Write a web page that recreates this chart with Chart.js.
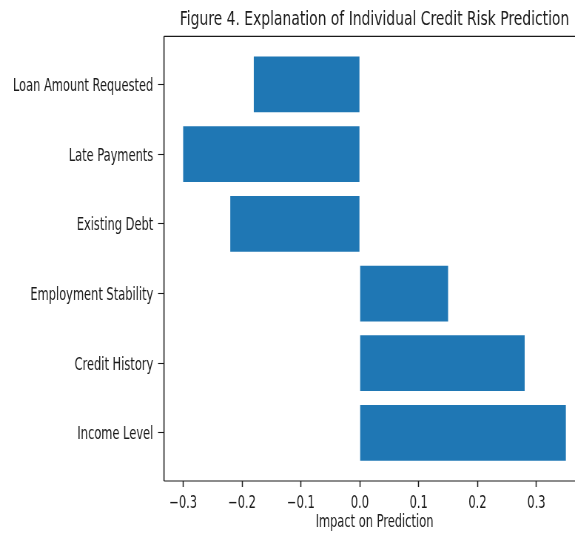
<!DOCTYPE html>
<html>
<head>
<meta charset="utf-8">
<script src="https://cdn.jsdelivr.net/npm/chart.js@4/dist/chart.umd.min.js"></script>
<style>
  html, body { margin: 0; padding: 0; background: #fff; overflow: hidden; }
  #wrap { width: 800px; height: 533px; transform: scaleX(0.74); transform-origin: 0 0; }
  canvas { display: block; }
</style>
</head>
<body>
<div id="wrap"><canvas id="chart" width="800" height="533" style="width:800px;height:533px"></canvas></div>
<script>
// Feature contributions for one applicant
const categories = ['Loan Amount Requested', 'Late Payments', 'Existing Debt', 'Employment Stability', 'Credit History', 'Income Level'];
const impacts = [-0.18, -0.30, -0.22, 0.15, 0.28, 0.35];
const xTickValues = [-0.3, -0.2, -0.1, 0.0, 0.1, 0.2, 0.3];

// Layout (canvas units; the canvas is squeezed horizontally by the wrapper)
const SX = 0.74;
const CANVAS_W = 800, CANVAS_H = 533;
const AREA_LEFT = 164 / SX, AREA_RIGHT = 585 / SX, AREA_BOTTOM = 481;
const INK = '#1a1a1a';
const TICK_FONT = { family: '"DejaVu Sans Condensed", "DejaVu Sans", sans-serif', size: 17.2 };
const TITLE_FONT = { family: '"DejaVu Sans", sans-serif', size: 18.8, weight: 'normal', lineHeight: 1.2 };

const points = impacts.map((v, i) => ({ x: v, y: i }));

// Axes frame drawn on top of the bars
const frame = {
  id: 'frame',
  afterDatasetsDraw(chart) {
    const { ctx, chartArea: a } = chart;
    ctx.save();
    ctx.strokeStyle = INK;
    ctx.lineWidth = 1.1;
    ctx.beginPath();
    ctx.moveTo(a.left, a.top); ctx.lineTo(a.right, a.top);
    ctx.moveTo(a.left, a.bottom); ctx.lineTo(a.right, a.bottom);
    ctx.stroke();
    ctx.lineWidth = 1.1 / SX;
    ctx.beginPath();
    ctx.moveTo(a.left, a.top); ctx.lineTo(a.left, a.bottom);
    ctx.moveTo(a.right, a.top); ctx.lineTo(a.right, a.bottom);
    ctx.stroke();
    ctx.restore();
  }
};

new Chart(document.getElementById('chart'), {
  type: 'bar',
  data: {
    datasets: [{
      data: points,
      backgroundColor: '#1f77b4',
      borderWidth: 0,
      barPercentage: 0.8,
      categoryPercentage: 1.0
    }]
  },
  options: {
    indexAxis: 'y',
    responsive: false,
    devicePixelRatio: 1,
    animation: false,
    layout: { padding: { left: 0, right: CANVAS_W - AREA_RIGHT, top: 0, bottom: 0 } },
    plugins: {
      legend: { display: false },
      tooltip: { enabled: false },
      title: {
        display: true,
        text: 'Figure 4. Explanation of Individual Credit Risk Prediction',
        color: INK,
        font: TITLE_FONT,
        fullSize: false,
        padding: { top: 9.2, bottom: 4.6 }
      }
    },
    scales: {
      x: {
        type: 'linear',
        min: -0.3325,
        max: 0.3825,
        border: { display: false },
        grid: { drawOnChartArea: false, drawTicks: true, tickLength: 6, tickWidth: 1.1 / SX, tickColor: INK },
        afterBuildTicks(scale) { scale.ticks = xTickValues.map(v => ({ value: v })); },
        afterFit(scale) { scale.height = CANVAS_H - AREA_BOTTOM; },
        ticks: {
          color: INK,
          font: TICK_FONT,
          padding: 6,
          maxRotation: 0,
          autoSkip: false,
          callback: v => v.toFixed(1).replace('-', '\u2212')
        },
        title: {
          display: true,
          text: 'Impact on Prediction',
          color: INK,
          font: TICK_FONT,
          padding: { top: 0, bottom: 0 }
        }
      },
      y: {
        type: 'linear',
        reverse: true,
        offset: false,
        min: -0.69,
        max: categories.length - 1 + 0.69,
        border: { display: false },
        grid: { offset: false, drawOnChartArea: false, drawTicks: true, tickLength: 8, tickWidth: 1.1, tickColor: INK },
        afterBuildTicks(scale) { scale.ticks = categories.map((_, i) => ({ value: i })); },
        afterFit(scale) { scale.width = AREA_LEFT; },
        ticks: {
          color: INK,
          font: TICK_FONT,
          padding: 6.5,
          autoSkip: false,
          labelOffset: 2,
          callback: v => categories[v]
        }
      }
    }
  },
  plugins: [frame]
});
</script>
</body>
</html>
